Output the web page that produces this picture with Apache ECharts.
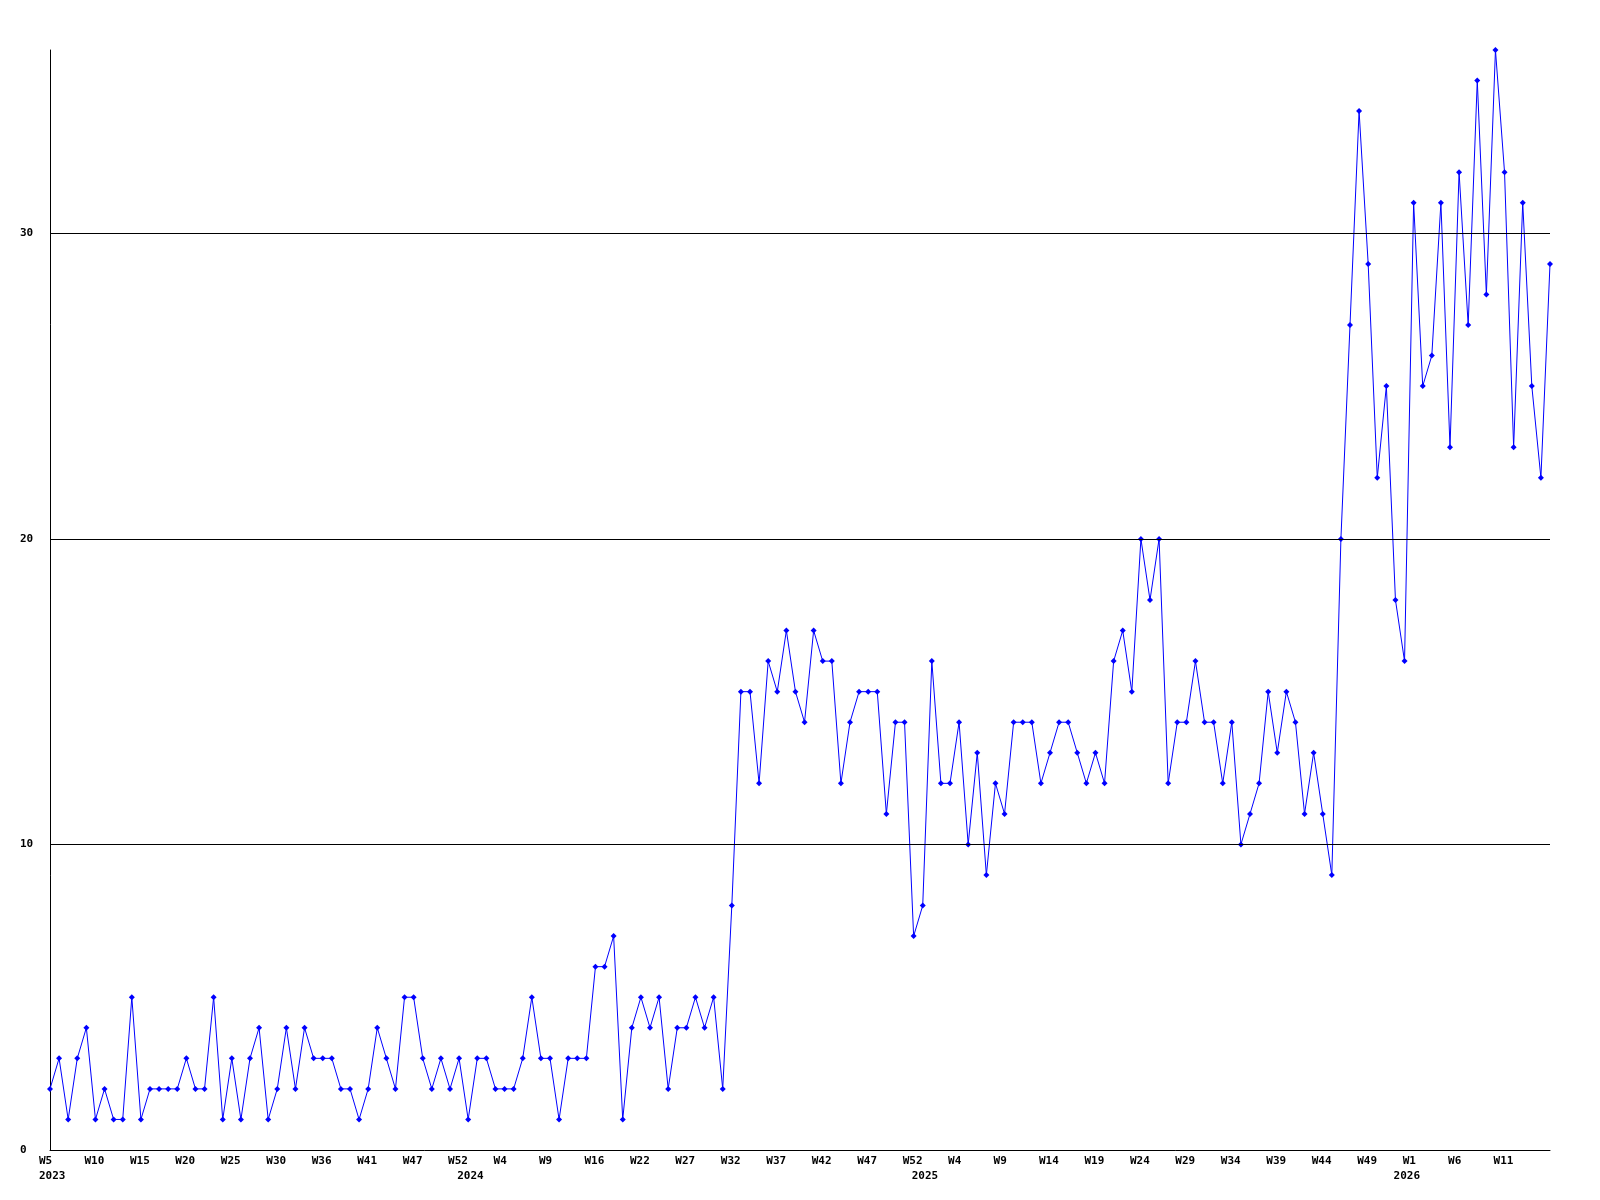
<!DOCTYPE html>
<html>
<head>
<meta charset="utf-8">
<script src="https://cdn.jsdelivr.net/npm/echarts@6/dist/echarts.min.js"></script>
<style>
html,body{margin:0;padding:0;background:#fff;}
#chart{width:1600px;height:1200px;}
</style>
</head>
<body>
<div id="chart"></div>
<script>
// Weekly values, 2023 W5 .. 2026
const values = [
  2,3,1,3,4,1,2,1,1,5,1,2,2,2,2,3,2,2,5,1,3,1,3,4,1,2,4,2,
  4,3,3,3,2,2,1,2,4,3,2,5,5,3,2,3,2,3,1,3,3,2,2,2,3,5,3,3,
  1,3,3,3,6,6,7,1,4,5,4,5,2,4,4,5,4,5,2,8,
  15,15,12,16,15,17,15,14,17,16,16,12,14,15,15,15,11,14,14,7,8,16,12,12,14,
  10,13,9,12,11,14,14,14,12,13,14,14,13,12,13,12,16,17,15,20,18,20,12,14,14,16,14,
  14,12,14,10,11,12,15,13,15,14,11,13,11,9,20,
  27,34,29,22,25,18,16,31,25,26,31,23,32,27,35,28,36,32,23,31,25,22,29
];
// week tick labels, one every 5th point starting at the first
const weekTicks = ['W5','W10','W15','W20','W25','W30','W36','W41','W47','W52',
  'W4','W9','W16','W22','W27','W32','W37','W42','W47','W52',
  'W4','W9','W14','W19','W24','W29','W34','W39','W44','W49',
  'W1','W6','W11'];
// year labels: [point index, year]
const yearTicks = [[0,'2023'],[46,'2024'],[96,'2025'],[149,'2026']];
// y axis
const yTicks = [0,10,20,30];
const yMax = 36;
const gridValues = [10,20,30];

const categories = values.map((v,i)=>String(i));
const yearMap = {};
yearTicks.forEach(([i,y])=>{ yearMap[i]=y; });

const font = {fontFamily:'"DejaVu Sans Mono", monospace', fontWeight:'bold', fontSize:11, color:'#000'};

const chart = echarts.init(document.getElementById('chart'), null, {renderer:'canvas'});
chart.setOption({
  animation:false,
  backgroundColor:'#fff',
  grid:[
    {left:50,right:50,top:50,bottom:50},
    {left:39,right:61,top:50,bottom:50}
  ],
  xAxis:[
    {type:'category',gridIndex:0,data:categories,boundaryGap:false,
     axisLine:{lineStyle:{color:'#000',width:1}},axisTick:{show:false},
     axisLabel:{show:false},splitLine:{show:false}},
    {type:'category',gridIndex:1,data:categories,boundaryGap:false,
     axisLine:{show:false},axisTick:{show:false},splitLine:{show:false},
     axisLabel:Object.assign({interval:0,align:'left',margin:4,lineHeight:15,
       formatter:function(val,idx){
         const i = Number(val);
         const w = (i%5===0 && weekTicks[i/5]) ? weekTicks[i/5] : '';
         const y = yearMap[i] || '';
         if(!w && !y) return '';
         return (w||' ') + '\n' + (y||' ');
       }}, font)}
  ],
  yAxis:[
    {type:'value',gridIndex:0,min:0,max:yMax,interval:10,
     axisLine:{show:true,lineStyle:{color:'#000',width:1}},axisTick:{show:false},
     splitLine:{show:false},
     axisLabel:Object.assign({align:'left',margin:30,
       formatter:function(v){ return yTicks.indexOf(v)>=0 ? String(v) : ''; }}, font)},
    {type:'value',gridIndex:1,min:0,max:yMax,show:false}
  ],
  series:[{
    type:'line',xAxisIndex:0,yAxisIndex:0,data:values,
    lineStyle:{color:'#0000ff',width:1},
    itemStyle:{color:'#0000ff'},
    symbol:'diamond',symbolSize:6,showAllSymbol:true,
    emphasis:{disabled:true},
    markLine:{silent:true,symbol:['none','none'],label:{show:false},
      lineStyle:{color:'#000',width:1,type:'solid'},
      data:gridValues.map(v=>({yAxis:v}))},
    z:3
  }]
});
</script>
</body>
</html>
